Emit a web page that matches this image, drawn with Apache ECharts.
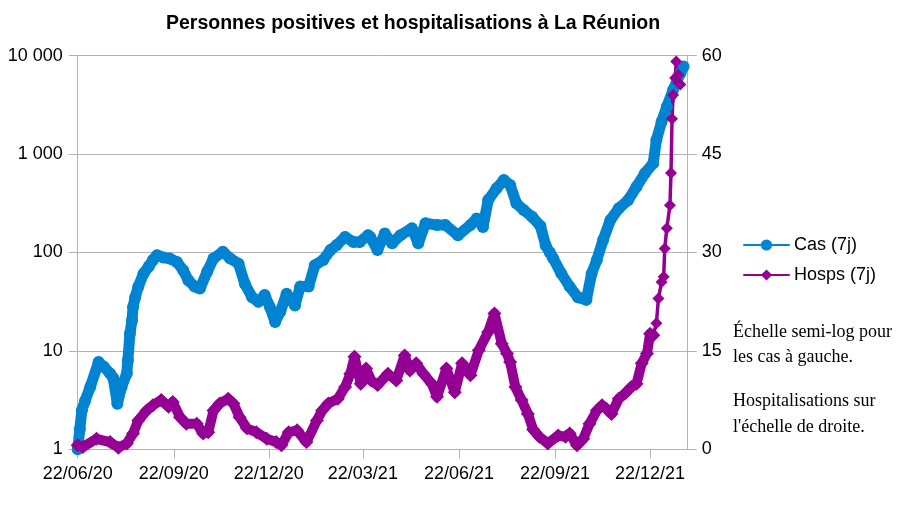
<!DOCTYPE html>
<html>
<head>
<meta charset="utf-8">
<script src="https://cdn.jsdelivr.net/npm/echarts@6/dist/echarts.min.js"></script>
<style>
html,body{margin:0;padding:0;background:#fff;}
#c{width:901px;height:510px;}
</style>
</head>
<body>
<div id="c"></div>
<script>
// Days counted from 22/06/2020
const START = Date.UTC(2020, 5, 22);
const tickDays = [0, 92, 183, 273, 365, 457, 548];

const casDays = [0, 2, 4, 7, 12, 20, 25, 31, 34, 38, 42, 47, 48, 50, 52, 53, 55, 58, 63, 68, 72, 76, 82, 88, 95, 101, 106, 112, 117, 124, 130, 139, 146, 154, 160, 167, 173, 179, 184, 189, 194, 200, 208, 213, 221, 227, 235, 242, 248, 256, 264, 270, 278, 280, 287, 294, 301, 309, 320, 326, 333, 344, 352, 364, 376, 382, 388, 393, 401, 408, 414, 420, 427, 435, 443, 448, 452, 455, 463, 471, 479, 487, 492, 497, 503, 510, 518, 527, 535, 543, 551, 554, 559, 564, 570, 577, 580];
const casValues = [1, 1.6, 2.5, 3.1, 4.3, 7.7, 6.9, 5.9, 5.3, 2.9, 4.3, 5.9, 8.0, 15, 20.5, 28, 35, 45, 61, 72, 84, 94, 89, 87, 80, 66, 52, 45, 43, 64, 87, 102, 87, 77, 48, 35, 31.5, 37, 28, 19.7, 25, 38, 29, 45, 45, 74, 84, 106, 119, 144, 128, 128, 150, 144, 106, 156, 124, 150, 176, 124, 198, 190, 190, 150, 190, 222, 182, 341, 449, 545, 485, 316, 270, 231, 186, 118, 100, 88, 61, 45, 35, 33, 61, 84, 134, 214, 281, 341, 466, 638, 806, 1391, 2137, 3020, 4490, 6640, 7760];

const hospDays = [0, 5, 18, 31, 39, 47, 53, 58, 66, 72, 80, 87, 91, 98, 104, 114, 120, 125, 130, 136, 144, 149, 155, 162, 171, 181, 190, 195, 202, 210, 219, 229, 234, 240, 249, 256, 261, 265, 271, 276, 281, 287, 297, 305, 313, 318, 324, 331, 339, 344, 353, 361, 368, 376, 384, 393, 399, 406, 411, 414, 419, 425, 431, 436, 442, 450, 460, 467, 471, 478, 484, 490, 497, 502, 506, 511, 518, 524, 530, 535, 540, 545, 548, 551, 554, 556, 559, 561, 562, 564, 567, 568, 569, 570, 572, 573, 575, 577, 580, 582, 583];
const hospValues = [0.6, 0.35, 1.6, 1.1, 0.25, 0.9, 2.4, 4.4, 5.9, 6.7, 7.5, 6.5, 7.2, 4.9, 3.9, 3.9, 2.4, 2.6, 5.9, 7.0, 7.7, 7.0, 4.9, 3.2, 2.6, 1.6, 1.1, 0.6, 2.6, 2.9, 1.1, 4.4, 5.9, 7.0, 7.7, 9.5, 11.5, 14.1, 10.0, 12.3, 10.5, 9.8, 11.5, 10.5, 14.3, 12.0, 13.1, 11.5, 10.0, 8.0, 12.3, 8.7, 13.1, 11.3, 15.1, 17.9, 20.7, 16.1, 14.6, 13.3, 9.5, 7.5, 5.4, 3.0, 1.9, 0.9, 2.1, 1.9, 2.4, 0.6, 1.6, 3.9, 5.9, 6.7, 6.2, 5.4, 7.7, 8.5, 9.5, 10.0, 13.1, 14.6, 17.6, 17.4, 19.2, 23.0, 25.5, 26.3, 30.6, 33.7, 37.2, 42.1, 50.4, 54.0, 56.6, 59.1, 57.1, 55.6];
// the steep final rise is drawn with a thin connecting line (as in the original)
const hospSteepFromDay = 551;

const BLUE = '#0084d1';
const PURPLE = '#940094';
const GRAY = '#b3b3b3';
const FONT = 'Liberation Sans';

function dayLabel(d) {
  const dt = new Date(START + d * 86400000);
  const p = n => String(n).padStart(2, '0');
  return p(dt.getUTCDate()) + '/' + p(dt.getUTCMonth() + 1) + '/' + p(dt.getUTCFullYear() % 100);
}
function thousands(v) {
  return String(Math.round(v)).replace(/\B(?=(\d{3})+(?!\d))/g, ' ');
}

const casData = casDays.map((d, i) => [d, casValues[i]]);
const hospData = hospDays.map((d, i) => [d, hospValues[i]]);
const hospFlat = hospData.filter(p => p[0] <= hospSteepFromDay);
const hospSteep = hospData.filter(p => p[0] >= hospSteepFromDay);

const chart = echarts.init(document.getElementById('c'), null, {renderer: 'canvas'});
chart.setOption({
  animation: false,
  backgroundColor: '#ffffff',
  title: {
    text: 'Personnes positives et hospitalisations à La Réunion',
    left: 166, top: 14, padding: 0,
    textStyle: {fontFamily: FONT, fontSize: 19.5, fontWeight: 'bold', color: '#000'}
  },
  grid: {left: 77.7, right: 213.3, top: 55.7, bottom: 60.7, containLabel: false},
  legend: {
    orient: 'vertical', left: 743, top: 236, padding: 0,
    itemWidth: 45, itemHeight: 14, itemGap: 12,
    textStyle: {fontFamily: FONT, fontSize: 18, color: '#000'},
    lineStyle: {width: 2},
    data: ['Cas (7j)', 'Hosps (7j)']
  },
  xAxis: {
    type: 'value', min: 0, max: 584,
    axisLine: {show: true, lineStyle: {color: GRAY, width: 1}},
    axisTick: {show: true, length: 9, lineStyle: {color: GRAY}, customValues: tickDays},
    axisLabel: {customValues: tickDays, formatter: v => dayLabel(v), margin: 16,
      fontFamily: FONT, fontSize: 18, color: '#000'},
    splitLine: {show: false}
  },
  yAxis: [{
    type: 'log', logBase: 10, min: 1, max: 10000, position: 'left',
    axisLine: {show: true, lineStyle: {color: GRAY}},
    axisTick: {show: true, length: 9, lineStyle: {color: GRAY}},
    minorTick: {show: false},
    axisLabel: {formatter: v => thousands(v), margin: 15, fontFamily: FONT, fontSize: 18, color: '#000'},
    splitLine: {show: true, lineStyle: {color: GRAY, width: 1}}
  }, {
    type: 'value', min: 0, max: 60, interval: 15, position: 'right',
    axisLine: {show: true, lineStyle: {color: GRAY}},
    axisTick: {show: true, length: 9, lineStyle: {color: GRAY}},
    axisLabel: {margin: 14, fontFamily: FONT, fontSize: 18, color: '#000'},
    splitLine: {show: false}
  }],
  graphic: [
    {type: 'text', x: 733, y: 332, style: {text: 'Échelle semi-log pour', font: '18px "Liberation Serif"', fill: '#000', verticalAlign: 'middle'}},
    {type: 'text', x: 733, y: 357.5, style: {text: 'les cas à gauche.', font: '18px "Liberation Serif"', fill: '#000', verticalAlign: 'middle'}},
    {type: 'text', x: 733, y: 401, style: {text: 'Hospitalisations sur', font: '18px "Liberation Serif"', fill: '#000', verticalAlign: 'middle'}},
    {type: 'text', x: 733, y: 427, style: {text: "l'échelle de droite.", font: '18px "Liberation Serif"', fill: '#000', verticalAlign: 'middle'}}
  ],
  series: [{
    name: 'Cas (7j)', type: 'line', yAxisIndex: 0, data: casData,
    symbol: 'circle', symbolSize: 12, showSymbol: true,
    itemStyle: {color: BLUE},
    lineStyle: {color: BLUE, width: 11, cap: 'round', join: 'round'}
  }, {
    name: 'Hosps (7j)', type: 'line', yAxisIndex: 1, data: hospFlat,
    symbol: 'diamond', symbolSize: 14, showSymbol: true,
    itemStyle: {color: PURPLE},
    lineStyle: {color: PURPLE, width: 10, cap: 'round', join: 'round'}
  }, {
    name: 'Hosps (7j)', type: 'line', yAxisIndex: 1, data: hospSteep,
    symbol: 'diamond', symbolSize: 12, showSymbol: true,
    itemStyle: {color: PURPLE},
    lineStyle: {color: PURPLE, width: 3.5, cap: 'round', join: 'round'}
  }]
});
</script>
</body>
</html>
